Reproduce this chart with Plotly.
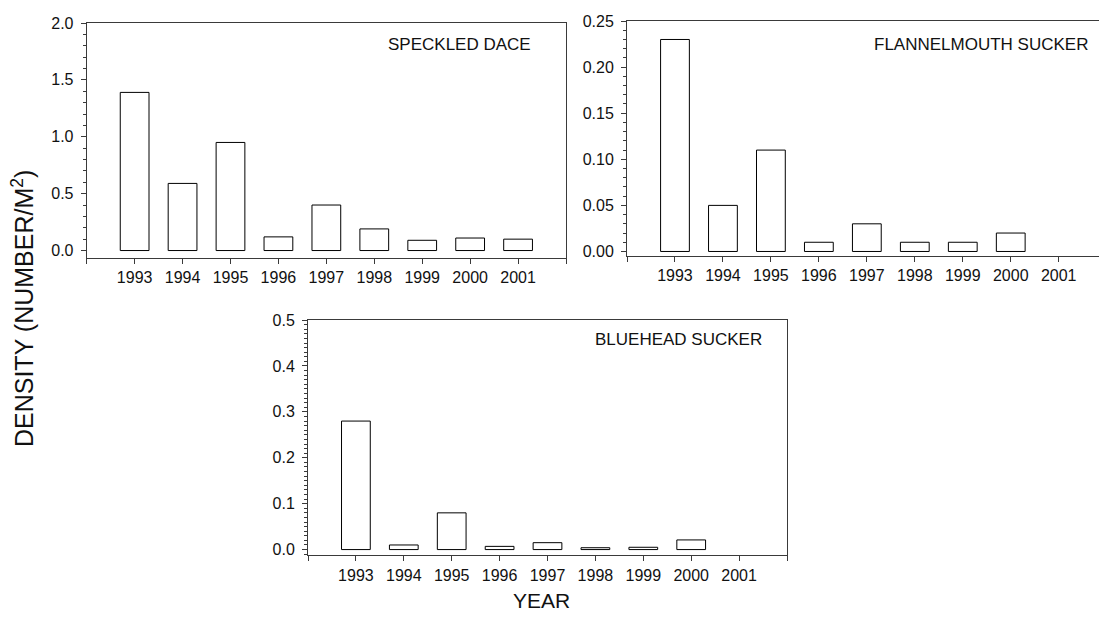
import plotly.graph_objects as go

years = [1993, 1994, 1995, 1996, 1997, 1998, 1999, 2000, 2001]
speckled_dace = [1.39, 0.59, 0.95, 0.12, 0.40, 0.19, 0.09, 0.11, 0.10]
flannelmouth_sucker = [0.23, 0.05, 0.11, 0.01, 0.03, 0.01, 0.01, 0.02, None]
bluehead_sucker = [0.28, 0.01, 0.08, 0.007, 0.015, 0.004, 0.005, 0.021, None]
panel_titles = ["SPECKLED DACE", "FLANNELMOUTH SUCKER", "BLUEHEAD SUCKER"]
tick_year_text = [str(y) for y in years]
y1_ticks = [0.0, 0.5, 1.0, 1.5, 2.0]
y2_ticks = [0.00, 0.05, 0.10, 0.15, 0.20, 0.25]
y3_ticks = [0.0, 0.1, 0.2, 0.3, 0.4, 0.5]

W, H = 1099, 617
FONT = "Liberation Sans, Arial, sans-serif"
LINE = "#3a3a3a"

def px_x(a, b):
    return [a / W, b / W]

def px_y(top, bottom):
    return [1 - bottom / H, 1 - top / H]

fig = go.Figure()
for i, vals in enumerate([speckled_dace, flannelmouth_sucker, bluehead_sucker]):
    sfx = "" if i == 0 else str(i + 1)
    fig.add_trace(go.Bar(
        x=years, y=vals, width=0.6,
        marker=dict(color="white", line=dict(color="black", width=1)),
        xaxis="x" + sfx, yaxis="y" + sfx, showlegend=False,
    ))

def xax(domain, rng, anchor, mirror=True):
    return dict(
        domain=domain, range=rng, anchor=anchor,
        tickmode="array", tickvals=years, ticktext=tick_year_text,
        ticks="outside", ticklen=5, tickwidth=1, tickcolor=LINE,
        minor=dict(ticks="outside", ticklen=5, tickwidth=1, tickcolor=LINE,
                   dtick=1, tick0=1992, showgrid=False),
        showline=True, linecolor=LINE, linewidth=1, mirror=mirror,
        showgrid=False, zeroline=False,
        tickfont=dict(family=FONT, size=16, color="#111"),
        ticklabelstandoff=0,
    )

def yax(domain, rng, anchor, tvals, fmt, minor_dtick, mirror=True):
    return dict(
        domain=domain, range=rng, anchor=anchor,
        tickmode="array", tickvals=tvals, tickformat=fmt,
        ticks="outside", ticklen=5, tickwidth=1, tickcolor=LINE,
        minor=dict(ticks="outside", ticklen=3, tickwidth=1, tickcolor=LINE,
                   dtick=minor_dtick, tick0=0, showgrid=False),
        showline=True, linecolor=LINE, linewidth=1, mirror=mirror,
        showgrid=False, zeroline=False,
        tickfont=dict(family=FONT, size=16, color="#111"),
        ticklabelstandoff=4,
    )

fig.update_layout(
    width=W, height=H,
    margin=dict(l=0, r=0, t=0, b=0),
    paper_bgcolor="white", plot_bgcolor="white",
    bargap=0.4,
    xaxis=xax(px_x(86.7, 566), [1992, 2002], "y"),
    yaxis=yax(px_y(15.3, 255), [-0.066, 2.0], "x", y1_ticks, ".1f", 0.1),
    xaxis2=xax(px_x(627, 1099), [1992, 2001.84], "y2"),
    yaxis2=yax(px_y(13.3, 253), [-0.005, 0.25], "x2", y2_ticks, ".2f", 0.01, mirror=False),
    xaxis3=xax(px_x(308, 787), [1992, 2002], "y3"),
    yaxis3=yax(px_y(318.3, 558.3), [-0.0128, 0.5], "x3", y3_ticks, ".1f", 0.01),
)

ann_pos = [(533, 37), (1090, 37), (764, 338)]
for t, (ax, ay) in zip(panel_titles, ann_pos):
    fig.add_annotation(text=t, x=ax / W, y=1 - ay / H, xref="paper", yref="paper",
                       xanchor="right", yanchor="middle", showarrow=False,
                       font=dict(family=FONT, size=17, color="#111"))

fig.add_annotation(text="YEAR", x=541.7 / W, y=1 - 604 / H, xref="paper", yref="paper",
                   xanchor="center", yanchor="middle", showarrow=False,
                   font=dict(family=FONT, size=21, color="#111"))
fig.add_annotation(text="DENSITY (NUMBER/M<sup>2</sup>)", x=23 / W, y=1 - 307 / H,
                   xref="paper", yref="paper", xanchor="center", yanchor="middle",
                   textangle=-90, showarrow=False,
                   font=dict(family=FONT, size=25, color="#111"))

fig.write_html("out.html", config={"displayModeBar": False},
               post_script="document.body.style.margin='0';document.body.style.overflow='hidden';")
